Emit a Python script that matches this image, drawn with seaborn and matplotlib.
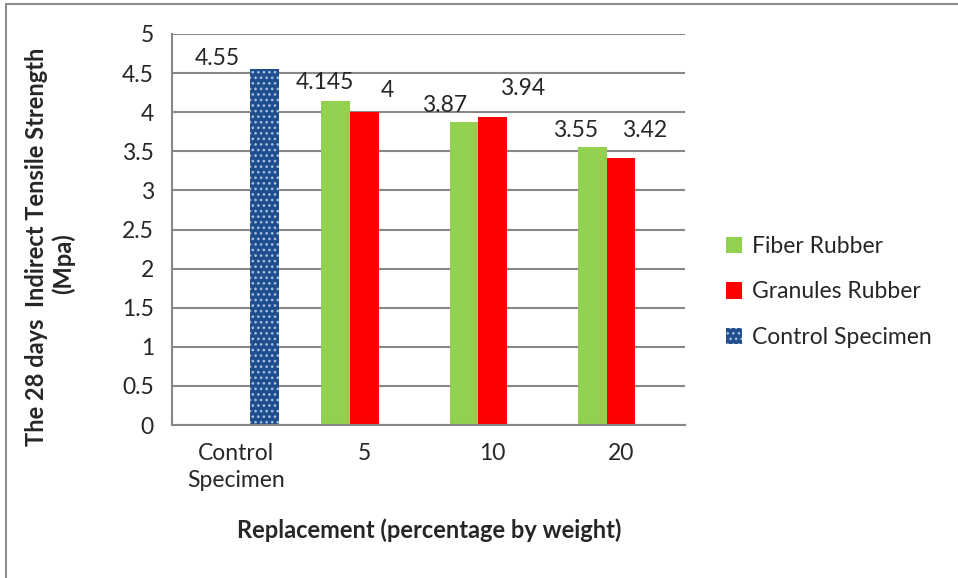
import matplotlib
matplotlib.use("Agg")
import matplotlib.pyplot as plt
from matplotlib.patches import Patch
from matplotlib.lines import Line2D
import seaborn as sns
import pandas as pd

categories = ["Control\nSpecimen", "5", "10", "20"]
series = ["Fiber Rubber", "Granules Rubber", "Control Specimen"]
fiber_values = [4.145, 3.87, 3.55]
granules_values = [4, 3.94, 3.42]
control_values = [4.55]
y_ticks = [0, 0.5, 1, 1.5, 2, 2.5, 3, 3.5, 4, 4.5, 5]

colors = {"Fiber Rubber": "#92D050", "Granules Rubber": "#FF0000", "Control Specimen": "#1F4E8F"}

rows = []
for c, v in zip(categories[1:], fiber_values):
    rows.append((c, "Fiber Rubber", v))
for c, v in zip(categories[1:], granules_values):
    rows.append((c, "Granules Rubber", v))
rows.append((categories[0], "Control Specimen", control_values[0]))
df = pd.DataFrame(rows, columns=["cat", "series", "value"])

sns.set_style("white")
plt.rcParams["font.family"] = ["Lato", "DejaVu Sans"]
plt.rcParams["hatch.linewidth"] = 1.1

FS = 16.5
FSB = 17

fig = plt.figure(figsize=(9.58, 5.78), dpi=100)
ax = fig.add_axes([172 / 958, 1 - 425 / 578, (685 - 172) / 958, (425 - 34) / 578])

sns.barplot(data=df, x="cat", y="value", hue="series", order=categories,
            hue_order=series, palette=colors, width=0.67, dodge=True,
            saturation=1, linewidth=0, errorbar=None, legend=False, ax=ax)

grid_c = "#878787"
ax.set_ylim(0, 5)
ax.set_xlim(-0.5, 3.5)
ax.set_yticks(y_ticks)
ax.set_yticklabels([f"{t:g}" for t in y_ticks], fontsize=FS)
ax.yaxis.grid(True, color=grid_c, linewidth=1.5)
ax.set_axisbelow(True)
ax.set_xticks(range(len(categories)))
ax.set_xticklabels(categories, fontsize=FS, linespacing=1.35)
ax.set_xticks([-0.5, 0.5, 1.5, 2.5, 3.5], minor=True)
ax.tick_params(axis="x", which="major", length=0, pad=13)
ax.tick_params(axis="x", which="minor", length=8, width=1.5, color=grid_c, direction="out")
ax.tick_params(axis="y", length=7, width=1.5, color=grid_c, direction="out", pad=6)
for s in ["top", "right"]:
    ax.spines[s].set_visible(False)
for s in ["left", "bottom"]:
    ax.spines[s].set_color(grid_c)
    ax.spines[s].set_linewidth(1.5)
ax.set_xlabel("")
ax.set_ylabel("")

# hatch control bar
hatch_c = "#A9BEDD"
for bar in ax.containers[2]:
    bar.set_hatch("...")
    bar.set_edgecolor(hatch_c)
    bar.set_linewidth(0)

# data labels (pixel offsets converted to points)
offsets = {
    0: [(-11, 18), (-19, 17), (-17, 17)],
    1: [(23, 22), (30, 28), (24, 27)],
    2: [(-47, 11)],
}
for i, cont in enumerate(ax.containers):
    bars = [b for b in cont if b.get_height() > 0]
    for b, (dx, dy) in zip(bars, offsets[i]):
        h = b.get_height()
        ax.annotate(f"{h:g}", (b.get_x() + b.get_width() / 2, h),
                    xytext=(dx * 0.72, dy * 0.72), textcoords="offset points",
                    ha="center", va="center", fontsize=FS)

# axis titles
fig.text(37 / 958, 1 - 247 / 578, "The 28 days  Indirect Tensile Strength",
         rotation=90, ha="center", va="center", fontsize=FSB, fontweight="bold")
fig.text(63 / 958, 1 - 264 / 578, "(Mpa)",
         rotation=90, ha="center", va="center", fontsize=FSB, fontweight="bold")
fig.text(429 / 958, 1 - 530 / 578, "Replacement (percentage by weight)",
         ha="center", va="center", fontsize=FSB, fontweight="bold")

handles = [Patch(facecolor=colors["Fiber Rubber"], linewidth=0),
           Patch(facecolor=colors["Granules Rubber"], linewidth=0),
           Patch(facecolor=colors["Control Specimen"], edgecolor=hatch_c,
                 hatch="...", linewidth=0)]
leg = fig.legend(handles, series, loc="center left",
                 bbox_to_anchor=(726 / 958, 1 - 292 / 578), frameon=False,
                 fontsize=FS, handlelength=0.7, handleheight=0.7,
                 handletextpad=0.45, labelspacing=1.05, borderaxespad=0,
                 borderpad=0)

# outer frame
fig.add_artist(Line2D([6 / 958, 6 / 958], [0, 1 - 4 / 578], transform=fig.transFigure,
                      color="#8C8C8C", linewidth=1.5))
fig.add_artist(Line2D([6 / 958, 1], [1 - 4 / 578, 1 - 4 / 578], transform=fig.transFigure,
                      color="#8C8C8C", linewidth=1.5))

fig.savefig("out.png", dpi=100)
